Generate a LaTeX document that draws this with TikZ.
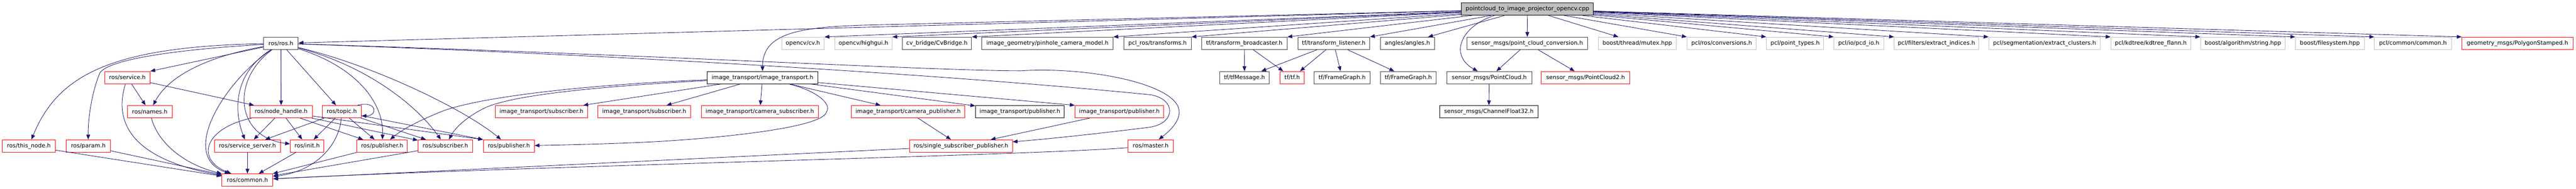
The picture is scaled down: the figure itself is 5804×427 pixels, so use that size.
\documentclass[tikz,border=0pt]{standalone}
\usepackage{fontspec}
\setmainfont{DejaVu Sans}
\usetikzlibrary{arrows.meta,calc}
\definecolor{edgeblue}{RGB}{25,25,112}
\definecolor{grayb}{RGB}{191,191,191}
\definecolor{darkb}{RGB}{64,64,64}
\newcommand{\mkbox}[6]{\node[#1,minimum width={(#4-#3)*1pt}] (#2) at ({(#3+#4)/2},#5) {#6};}
\begin{document}
\begin{tikzpicture}[x=1pt,y=-1pt,
  box/.style={draw,rectangle,minimum height=28pt,inner sep=0pt,line width=1.1pt,font=\fontsize{12.9}{15}\selectfont},
  rb/.style={box,draw=red},
  db/.style={box,draw=darkb},
  kb/.style={box,draw=black},
  gb/.style={box,draw=grayb},
  rootb/.style={box,draw=black,fill=grayb},
  edge/.style={draw=edgeblue,line width=1pt,-{Triangle[length=11pt,width=8.5pt]}}]
\useasboundingbox (0,0) rectangle (5804,427);
% row 0
\mkbox{rootb}{root}{3293}{3590}{20.5}{pointcloud\_to\_image\_projector\_opencv.cpp}
% row 1
\mkbox{db}{ros}{594}{672}{98}{ros/ros.h}
\mkbox{gb}{cv}{1761}{1857}{98}{opencv/cv.h}
\mkbox{gb}{highgui}{1881}{2010}{98}{opencv/highgui.h}
\mkbox{db}{cvb}{2033}{2189}{98}{cv\_bridge/CvBridge.h}
\mkbox{db}{pin}{2212}{2508}{98}{image\_geometry/pinhole\_camera\_model.h}
\mkbox{db}{pclt}{2532}{2684}{98}{pcl\_ros/transforms.h}
\mkbox{db}{tfb}{2707}{2900}{98}{tf/transform\_broadcaster.h}
\mkbox{db}{tfl}{2924}{3086}{98}{tf/transform\_listener.h}
\mkbox{db}{ang}{3110}{3232}{98}{angles/angles.h}
\mkbox{db}{pcc}{3305}{3577}{98}{sensor\_msgs/point\_cloud\_conversion.h}
\mkbox{gb}{mutex}{3601}{3777}{98}{boost/thread/mutex.hpp}
\mkbox{gb}{conv}{3801}{3957}{98}{pcl/ros/conversions.h}
\mkbox{gb}{ptypes}{3980}{4109}{98}{pcl/point\_types.h}
\mkbox{gb}{pcd}{4132}{4244}{98}{pcl/io/pcd\_io.h}
\mkbox{gb}{ext}{4268}{4458}{98}{pcl/filters/extract\_indices.h}
\mkbox{gb}{clus}{4481}{4732}{98}{pcl/segmentation/extract\_clusters.h}
\mkbox{gb}{kd}{4756}{4936}{98}{pcl/kdtree/kdtree\_flann.h}
\mkbox{gb}{bstr}{4958}{5149}{98}{boost/algorithm/string.hpp}
\mkbox{gb}{bfs}{5172}{5327}{98}{boost/filesystem.hpp}
\mkbox{gb}{pclc}{5350}{5523}{98}{pcl/common/common.h}
\mkbox{rb}{geo}{5547}{5797}{98}{geometry\_msgs/PolygonStamped.h}
% row 2
\mkbox{rb}{service}{236}{338}{175.5}{ros/service.h}
\mkbox{kb}{itr}{1593}{1843}{175.5}{image\_transport/image\_transport.h}
\mkbox{db}{tfm}{2748}{2860}{175.5}{tf/tfMessage.h}
\mkbox{rb}{tftf}{2884}{2939}{175.5}{tf/tf.h}
\mkbox{db}{fga}{2961}{3087}{175.5}{tf/FrameGraph.h}
\mkbox{db}{fgb}{3110}{3236}{175.5}{tf/FrameGraph.h}
\mkbox{db}{pc}{3260}{3451}{175.5}{sensor\_msgs/PointCloud.h}
\mkbox{rb}{pcb}{3473}{3672}{175.5}{sensor\_msgs/PointCloud2.h}
% row 3
\mkbox{rb}{names}{287}{388}{252.5}{ros/names.h}
\mkbox{rb}{nh}{563}{704}{252.5}{ros/node\_handle.h}
\mkbox{rb}{topic}{726}{814}{252.5}{ros/topic.h}
\mkbox{rb}{itsuba}{1116}{1324}{252.5}{image\_transport/subscriber.h}
\mkbox{rb}{itsubb}{1347}{1556}{252.5}{image\_transport/subscriber.h}
\mkbox{rb}{itcsub}{1580}{1844}{252.5}{image\_transport/camera\_subscriber.h}
\mkbox{rb}{itcpub}{1918}{2174}{252.5}{image\_transport/camera\_publisher.h}
\mkbox{kb}{itpubb}{2198}{2398}{252.5}{image\_transport/publisher.h}
\mkbox{rb}{itpubr}{2422}{2622}{252.5}{image\_transport/publisher.h}
\mkbox{kb}{chan}{3244}{3465}{252.5}{sensor\_msgs/ChannelFloat32.h}
% row 4
\mkbox{rb}{thisnode}{5}{125}{330}{ros/this\_node.h}
\mkbox{rb}{param}{149}{249}{330}{ros/param.h}
\mkbox{rb}{ss}{483}{632}{330}{ros/service\_server.h}
\mkbox{rb}{init}{654}{730}{330}{ros/init.h}
\mkbox{rb}{puba}{804}{918}{330}{ros/publisher.h}
\mkbox{rb}{sub}{942}{1065}{330}{ros/subscriber.h}
\mkbox{rb}{pubb}{1089}{1204}{330}{ros/publisher.h}
\mkbox{rb}{ssp}{2049}{2281}{330}{ros/single\_subscriber\_publisher.h}
\mkbox{rb}{master}{2541}{2644}{330}{ros/master.h}
% row 5
\mkbox{rb}{common}{500}{615}{407}{ros/common.h}

% ---- edges from root
\draw[edge] (root) -- (ros);
\draw[edge] (root) -- (1940,57) .. controls (1800,62) and (1718,75) .. (itr.north);
\draw[edge] (root) -- (cv.north east);
\draw[edge] (root) -- (highgui.north east);
\draw[edge] (root) -- (cvb.north east);
\draw[edge] (root) -- (pin.north east);
\draw[edge] (root) -- (pclt.north east);
\draw[edge] (root) -- (tfb.north east);
\draw[edge] (root) -- (tfl.north east);
\draw[edge] (root) -- ($(ang.north east)+(-15,0)$);
\draw[edge] ($(root.south west)!0.25!(root.south east)$) .. controls (3290,60) and (3265,125) .. (pc);
\draw[edge] (root) -- (pcc);
\draw[edge] (root) -- ($(mutex.north west)+(46,0)$);
\draw[edge] (root) -- (conv.north west);
\draw[edge] (root) -- (ptypes.north west);
\draw[edge] (root) -- (pcd.north west);
\draw[edge] (root) -- (ext.north west);
\draw[edge] (root) -- (clus.north west);
\draw[edge] (root) -- (kd.north west);
\draw[edge] (root) -- (bstr.north west);
\draw[edge] (root) -- (bfs.north west);
\draw[edge] (root) -- (pclc.north west);
\draw[edge] (root) -- (geo.north west);

% ---- ros/ros.h
\draw[edge] (ros) .. controls (250,105) and (130,170) .. (thisnode);
\draw[edge] (ros) .. controls (350,115) and (240,140) .. (225,165) .. controls (210,200) and (198,260) .. (param);
\draw[edge] (ros) .. controls (430,135) and (370,190) .. (names);
\draw[edge] (ros) -- (service.north east);
\draw[edge] (ros) .. controls (510,180) and (400,350) .. (common);
\draw[edge] (ros) .. controls (520,170) and (530,260) .. (ss);
\draw[edge] (ros) .. controls (520,180) and (530,310) .. (init);
\draw[edge] (ros) -- (nh);
\draw[edge] (ros) -- (topic);
\draw[edge] (ros) .. controls (800,150) and (865,230) .. (puba);
\draw[edge] (ros) .. controls (830,150) and (940,240) .. (sub);
\draw[edge] (ros) .. controls (850,150) and (1050,250) .. (pubb);
\draw[edge] (ros) .. controls (1500,125) and (2100,160) .. (2300,160) .. controls (2450,150) and (2660,190) .. (2657,255) .. controls (2655,280) and (2630,300) .. (master);
\draw[edge] (ros) .. controls (1500,128) and (2200,175) .. (2590,214) .. controls (2650,222) and (2652,280) .. (2587,288) .. controls (2450,305) and (2350,315) .. (ssp);

% ---- service / names / others to common
\draw[edge] (service) -- (names);
\draw[edge] (service) -- ($(nh.north west)+(10,0)$);
\draw[edge] (service) .. controls (255,280) and (300,360) .. (common);
\draw[edge] (names) .. controls (355,320) and (410,370) .. (common);
\draw[edge] (thisnode) -- (common);
\draw[edge] (param) -- (common);

% ---- node_handle
\draw[edge] (nh) .. controls (460,290) and (440,360) .. (common);
\draw[edge] (nh) -- (ss);
\draw[edge] (nh) -- (init);
\draw[edge] (nh) -- (puba);
\draw[edge] (nh) -- (sub);
\draw[edge] (nh) -- (pubb.north west);

% ---- topic
\draw[edge] ($(topic.north east)+(-9,0)$) .. controls (850,226) and (852,262) .. ($(topic.east)+(0,9.5)$);
\draw[edge] (topic) -- (ss);
\draw[edge] (topic) -- (init);
\draw[edge] (topic) .. controls (765,320) and (720,385) .. (common);
\draw[edge] (topic) -- (puba);
\draw[edge] (topic) -- (sub);
\draw[edge] (topic) -- (pubb.north west);

% ---- row 4 to common
\draw[edge] (ss) -- (common);
\draw[edge] (init) -- (common);
\draw[edge] (puba) -- (common);
\draw[edge] (sub) -- (common);
\draw[edge] (ssp) -- (common);
\draw[edge] (master) .. controls (2300,352) and (1200,375) .. (common);

% ---- image_transport
\draw[edge] (itr) -- (itsuba);
\draw[edge] (itr) -- (itsubb);
\draw[edge] (itr) -- (itcsub);
\draw[edge] (itr) -- (itcpub);
\draw[edge] (itr) -- (itpubb);
\draw[edge] (itr) -- (itpubr.north west);
\draw[edge] (itr) .. controls (1840,205) and (1875,235) .. (1862,253) .. controls (1855,290) and (1600,315) .. (1440,322) .. controls (1350,326) and (1250,328) .. (pubb);
\draw[edge] (itr) .. controls (1350,190) and (1100,215) .. (1000,250) .. controls (950,270) and (910,290) .. (puba);
\draw[edge] (itr) .. controls (1350,195) and (1150,215) .. (1090,245) .. controls (1050,265) and (1025,290) .. (sub);
\draw[edge] (itcpub) -- (ssp);
\draw[edge] (itpubr) -- (ssp);

% ---- tf
\draw[edge] (tfb) -- (tfm);
\draw[edge] (tfb) -- (tftf);
\draw[edge] (tfl) -- (tfm);
\draw[edge] (tfl) -- (tftf);
\draw[edge] (tfl) -- (fga);
\draw[edge] (tfl) -- (fgb);

% ---- sensor_msgs
\draw[edge] (pcc) -- (pc);
\draw[edge] (pcc) -- (pcb);
\draw[edge] (pc) -- (chan);
\end{tikzpicture}
\end{document}
